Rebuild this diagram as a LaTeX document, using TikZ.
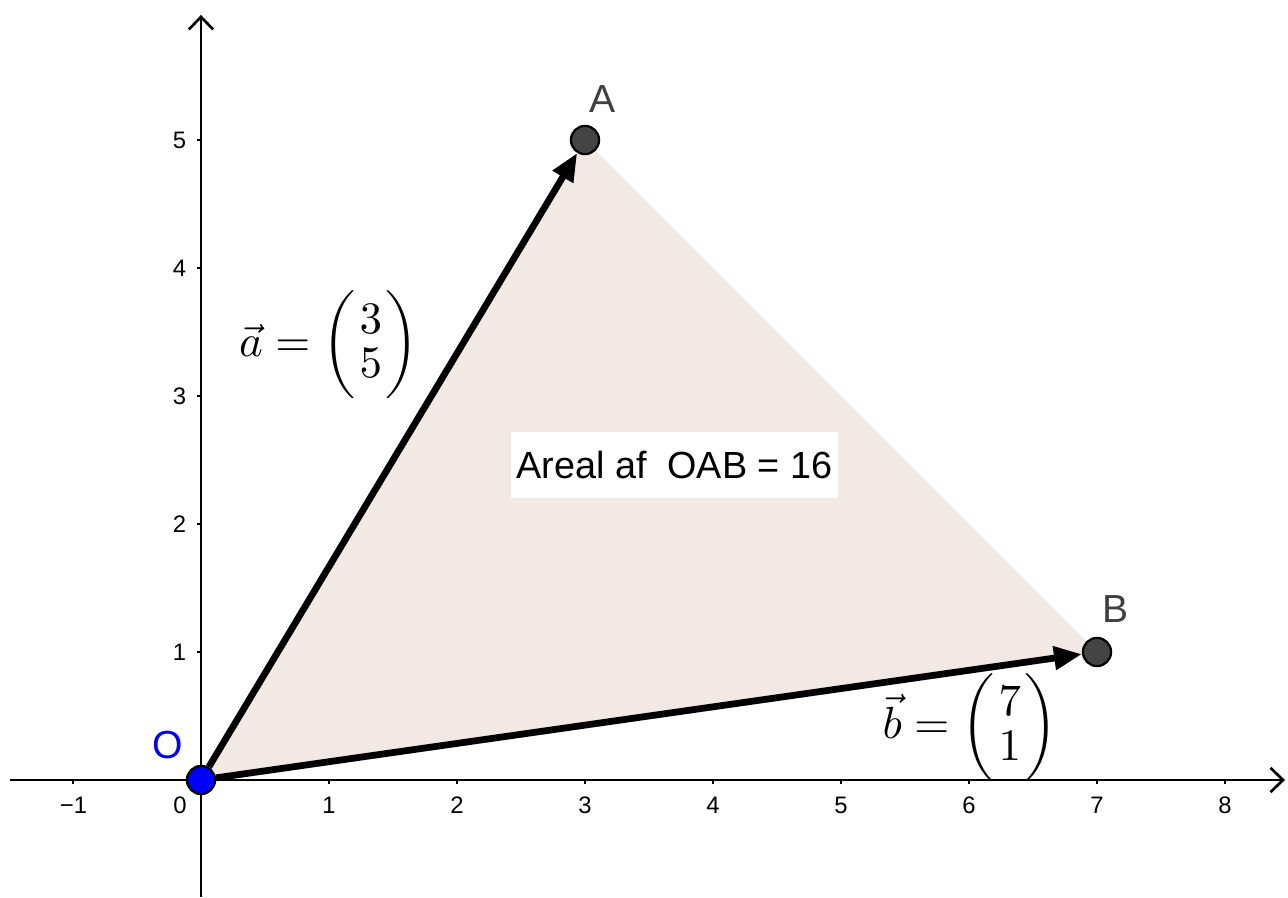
\documentclass[tikz,border=0pt]{standalone}
\usepackage{amsmath}
\usepackage{fontspec}
\setsansfont{Liberation Sans}
\usetikzlibrary{arrows.meta}
\definecolor{fillc}{RGB}{243,233,228}
\definecolor{ptgrey}{RGB}{68,68,68}
\definecolor{lblgrey}{RGB}{64,64,64}
\definecolor{ptblue}{RGB}{0,0,255}
\newcommand{\mycolvec}[2]{\biggl(\begin{array}{@{\hspace{0.8pt}}c@{\hspace{0.8pt}}}#1\\[-1.6pt]#2\end{array}\biggr)}
\begin{document}
\begin{tikzpicture}[x=1cm,y=1cm,
  axisline/.style={line width=0.6pt,-{Straight Barb[length=2.8pt,width=5.4pt,line width=0.6pt]}},
  tickmark/.style={line width=0.6pt},
  ticklbl/.style={font=\sffamily\fontsize{5.3}{6}\selectfont,inner sep=0pt},
  vecline/.style={line width=1.5pt,-{Triangle[length=6.2pt,width=5pt]}},
  ptnode/.style={circle,draw=black,line width=0.5pt,minimum size=0.22cm,inner sep=0pt},
  ptlbl/.style={font=\sffamily\fontsize{8.7}{10}\selectfont,inner sep=0pt},
  mathlbl/.style={font=\fontsize{9.6}{11.5}\selectfont,inner sep=0pt}
]
\useasboundingbox (-1.5703,-0.9141) rectangle (8.4922,6.0938);
% triangle
\fill[fillc] (0,0) -- (3,5) -- (7,1) -- cycle;
% axes
\coordinate (xl) at (-1.492,0);
\coordinate (xr) at (8.469,0);
\coordinate (yb) at (0,-0.9141);
\coordinate (yt) at (0,5.977);
\draw[axisline] (xl) -- (xr);
\draw[axisline] (yb) -- (yt);
% ticks
\foreach \i in {-1,1,2,...,8} \draw[tickmark] (\i,0) -- (\i,-0.035);
\foreach \j in {1,...,5} \draw[tickmark] (0,\j) -- (-0.035,\j);
\node[ticklbl] (tx-1) at (-0.996,-0.195) {−1};
\foreach \i in {1,...,8} \node[ticklbl] (tx\i) at (\i,-0.195) {\i};
\node[ticklbl] (t0) at (-0.164,-0.195) {0};
\foreach \j in {1,...,5} \node[ticklbl,anchor=east] (ty\j) at (-0.11,\j) {\j};
% points
\node[ptnode,fill=ptblue] (O) at (0,0) {};
\node[ptnode,fill=ptgrey] (A) at (3,5) {};
\node[ptnode,fill=ptgrey] (B) at (7,1) {};
% vectors
\draw[vecline] (O) -- (A);
\draw[vecline] (O) -- (B);
% point labels
\node[ptlbl,text=ptblue] (Olbl) at (-0.258,0.273) {O};
\node[ptlbl,text=lblgrey] (Albl) at (3.141,5.32) {A};
\node[ptlbl,text=lblgrey] (Blbl) at (7.148,1.336) {B};
% vector labels
\node[mathlbl] (alab) at (1.0,3.398) {$\vec{a}=\mycolvec{3}{5}$};
\node[mathlbl] (blab) at (6.01,0.41) {$\vec{b}=\mycolvec{7}{1}$};
% area box
\node[fill=white,minimum width=2.555cm,minimum height=0.516cm,inner sep=0pt,
      font=\sffamily\fontsize{8.4}{10}\selectfont] (area) at (3.699,2.461) {Areal af\ \ OAB = 16};
\end{tikzpicture}
\end{document}
